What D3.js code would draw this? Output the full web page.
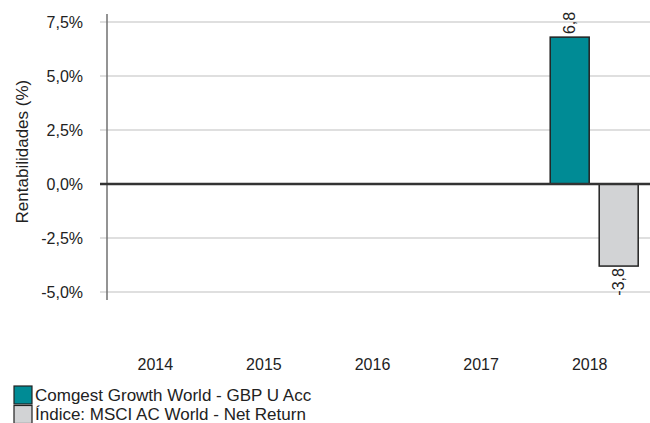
<!DOCTYPE html>
<html>
<head>
<meta charset="utf-8">
<script src="https://cdn.jsdelivr.net/npm/d3@7"></script>
<style>
  html, body { margin: 0; padding: 0; background: #fff; }
  text { font-family: "Liberation Sans", Arial, sans-serif; fill: #222; }
</style>
</head>
<body>
<svg id="chart" width="650" height="423"></svg>
<script>
const years = ["2014", "2015", "2016", "2017", "2018"];
const seriesNames = ["Comgest Growth World - GBP U Acc", "Índice: MSCI AC World - Net Return"];
const fundValues = [null, null, null, null, 6.8];
const indexValues = [null, null, null, null, -3.8];
const yTicks = [-5, -2.5, 0, 2.5, 5, 7.5];
const colors = ["#008B95", "#D2D3D5"];

const svg = d3.select("#chart");
const FONT = "'Liberation Sans', Arial, sans-serif";
const left = 107, right = 650;
const x = d3.scaleBand().domain(years).range([left, right]);
const y = d3.scaleLinear().domain([-5, 7.5]).range([292, 22]);
const fmt = v => d3.format(".1f")(v).replace(".", ",").replace("\u2212", "-");

// gridlines
svg.append("g").selectAll("line").data(yTicks.filter(t => t !== 0)).join("line")
  .attr("x1", 100).attr("x2", right)
  .attr("y1", d => y(d)).attr("y2", d => y(d))
  .attr("stroke", "#d4d4d4").attr("stroke-width", 1.5);

// y axis
const yAxis = d3.axisLeft(y).tickValues(yTicks).tickSize(0).tickPadding(0)
  .tickFormat(d => fmt(d) + "%");
const gy = svg.append("g").attr("transform", `translate(${left},0)`).call(yAxis);
gy.attr("font-family", null).attr("font-size", null);
gy.select(".domain").remove();
gy.selectAll("text").attr("x", -24).attr("dy", "0.35em")
  .style("font-size", "16px").style("font-family", FONT).attr("fill", "#222");
svg.append("line").attr("x1", left).attr("x2", left).attr("y1", 14).attr("y2", 300)
  .attr("stroke", "#707070").attr("stroke-width", 1.5);

// y title
svg.append("text").attr("transform", `translate(22,${y(1.5)}) rotate(-90)`)
  .attr("text-anchor", "middle").attr("dy", "0.35em").style("font-size", "17px")
  .style("font-family", FONT)
  .text("Rentabilidades (%)");

// x labels
const gx = svg.append("g").attr("transform", `translate(-6,364)`)
  .call(d3.axisBottom(x).tickSize(0).tickPadding(0));
gx.attr("font-family", null).attr("font-size", null);
gx.select(".domain").remove();
gx.selectAll("text").attr("dy", "0.35em").style("font-size", "16px")
  .style("font-family", FONT).attr("fill", "#222");

// bars
const barW = 39, gap = 10;
const data = [];
years.forEach((yr, i) => {
  [fundValues[i], indexValues[i]].forEach((v, s) => {
    if (v !== null) data.push({ yr, v, s });
  });
});
const cx = yr => x(yr) + x.bandwidth() / 2 - 1.5;
const bx = d => d.s === 0 ? cx(d.yr) - gap / 2 - barW : cx(d.yr) + gap / 2;

svg.append("g").selectAll("rect").data(data).join("rect")
  .attr("x", bx).attr("width", barW)
  .attr("y", d => y(Math.max(0, d.v)))
  .attr("height", d => Math.abs(y(d.v) - y(0)))
  .attr("fill", d => colors[d.s]).attr("stroke", "#222").attr("stroke-width", 1.5);

// value labels
svg.append("g").selectAll("text").data(data).join("text")
  .attr("transform", d => {
    const tx = bx(d) + barW / 2;
    const ty = d.v >= 0 ? y(d.v) - 3 : y(d.v) + 2;
    return `translate(${tx},${ty}) rotate(-90)`;
  })
  .attr("text-anchor", d => d.v >= 0 ? "start" : "end")
  .attr("dy", "0.35em").style("font-size", "16px").style("font-family", FONT)
  .text(d => fmt(d.v));

// zero line
svg.append("line").attr("x1", 100).attr("x2", right).attr("y1", y(0)).attr("y2", y(0))
  .attr("stroke", "#333").attr("stroke-width", 2.5);

// legend
const lg = svg.append("g").selectAll("g").data(seriesNames).join("g")
  .attr("transform", (d, i) => `translate(14,${386 + i * 19.5})`);
lg.append("rect").attr("width", 18).attr("height", 18)
  .attr("fill", (d, i) => colors[i]).attr("stroke", "#222").attr("stroke-width", 1.2);
lg.append("text").attr("x", 21).attr("y", 14.5)
  .style("font-size", "17px").style("font-family", FONT).text(d => d);
</script>
</body>
</html>
